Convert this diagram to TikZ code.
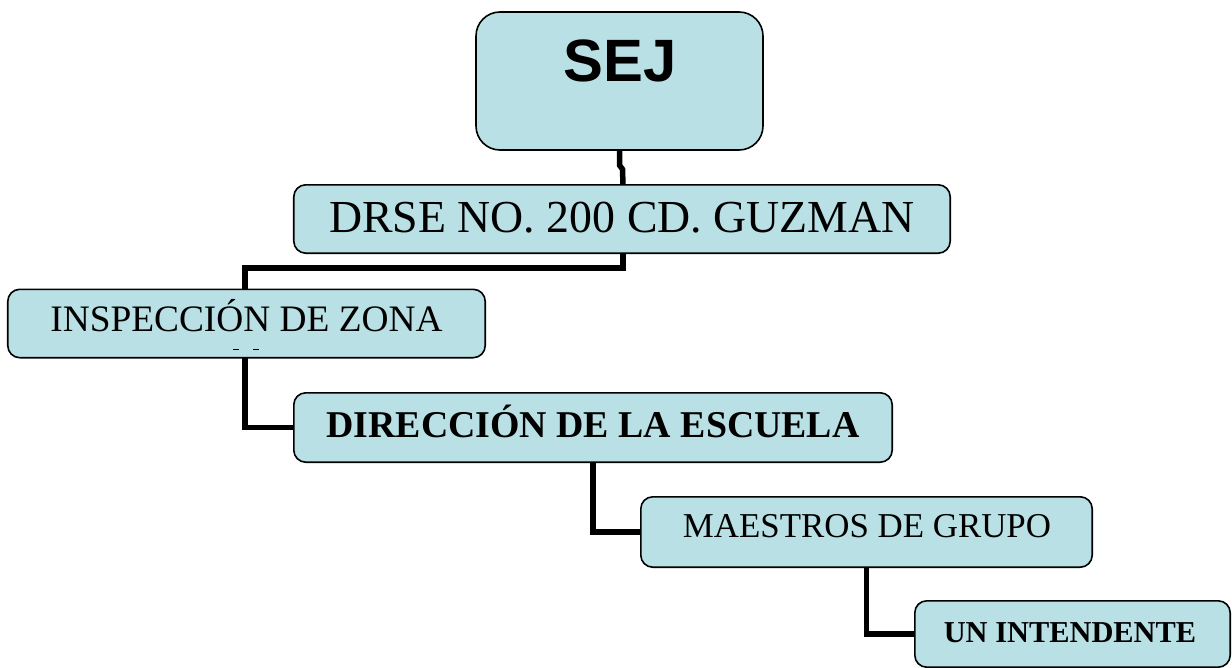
\documentclass[tikz,border=0pt]{standalone}
\usepackage{fontspec}
\setmainfont{Liberation Serif}
\newfontfamily\arialfont{Liberation Sans}
\definecolor{boxfill}{RGB}{185,224,228}
\tikzset{
  orgbox/.style={draw=black, line width=1.6bp, fill=boxfill, rounded corners=12bp},
  link/.style={draw=black, line width=5.5bp},
  lbl/.style={anchor=base, inner sep=0pt, text=black},
}
\begin{document}
\begin{tikzpicture}[x=1bp,y=-1bp]
\path[use as bounding box] (0,0) rectangle (1232,668);
% boxes
\path[orgbox, rounded corners=24bp] (476,12) rectangle (763,150);
\node[inner sep=0pt, minimum width=287bp, minimum height=138bp] (sej) at (619.5,81) {};
\node[inner sep=0pt, minimum width=656bp, minimum height=68bp] (drse) at (622,219) {};
\node[inner sep=0pt, minimum width=477bp, minimum height=68bp] (insp) at (246.5,323.5) {};
\node[inner sep=0pt, minimum width=598bp, minimum height=69bp] (dir) at (593,427.5) {};
\node[inner sep=0pt, minimum width=451bp, minimum height=70bp] (maes) at (866.5,532) {};
\node[inner sep=0pt, minimum width=315bp, minimum height=66bp] (int) at (1072.5,634) {};
% connectors (drawn first so boxes cover ends)
\draw[link] (sej.south) -- ++(0,15) -- ++(3,4) -- (drse.north -| 623,0);
\draw[link] (drse.south -| 623,0) -- (623,268) -- (245,268) -- (insp.north -| 245,0);
\draw[link] (insp.south -| 245,0) |- (dir.west);
\draw[link] (dir.south) |- (maes.west);
\draw[link] (maes.south) |- (int.west);
\path[orgbox] (drse.south west) rectangle (drse.north east);
\path[orgbox] (insp.south west) rectangle (insp.north east);
\path[orgbox] (dir.south west) rectangle (dir.north east);
\path[orgbox] (maes.south west) rectangle (maes.north east);
\path[orgbox] (int.south west) rectangle (int.north east);
% texts
\node[lbl, font=\arialfont\bfseries\fontsize{60}{60}\selectfont] (sejt) at (620,82) {SEJ};
\node[lbl, font=\fontsize{46}{46}\selectfont] (drset) at (622,233) {DRSE NO. 200 CD. GUZMAN};
\node[lbl, font=\fontsize{37.5}{38}\selectfont] (inspt) at (246.5,331) {INSPECCIÓN DE ZONA};
\node[lbl, font=\bfseries\fontsize{38}{38}\selectfont] (dirt) at (593,437) {DIRECCIÓN DE LA ESCUELA};
\node[lbl, font=\fontsize{35}{35}\selectfont] (maest) at (867,537) {MAESTROS DE GRUPO};
\node[lbl, font=\bfseries\fontsize{30.5}{31}\selectfont] (intt) at (1070,642) {UN INTENDENTE};
% tiny marks under INSPECCIÓN
\draw[line width=0.8bp] (233,349) -- (239,349) (253,349) -- (259,349);
\end{tikzpicture}
\end{document}
